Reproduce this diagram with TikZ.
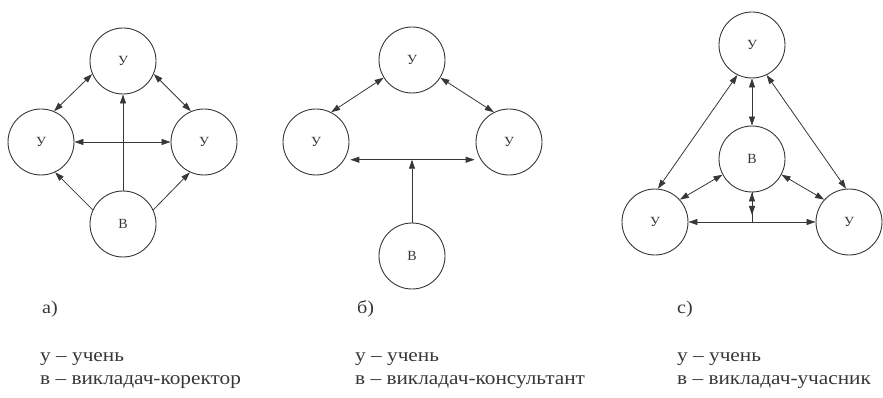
\documentclass[tikz,border=0pt]{standalone}
\usepackage{fontspec}
\setmainfont{Liberation Serif}
\newfontfamily\legfont[FakeStretch=1.12]{Liberation Serif}
\usetikzlibrary{arrows.meta}
\definecolor{ink}{RGB}{55,55,55}
\begin{document}
\begin{tikzpicture}[x=1pt,y=-1pt,
  circ/.style={circle,draw=ink,line width=0.9pt,minimum size=66pt,inner sep=0pt,font=\fontsize{14}{14}\selectfont,text=ink},
  conn/.style={draw=ink,line width=0.8pt},
  oneway/.style={conn,-{Triangle[length=9pt,width=6pt]}},
  twoway/.style={conn,{Triangle[length=9pt,width=6pt]}-{Triangle[length=9pt,width=6pt]}},
  lab/.style={anchor=west,font=\legfont\fontsize{18}{18}\selectfont,text=ink,inner sep=0pt},
  leg/.style={anchor=base west,font=\legfont\fontsize{19}{19}\selectfont,text=ink,inner sep=0pt}]
\useasboundingbox (0,0) rectangle (883,398);

% a)
\node[circ] (aT) at (123,61) {У};
\node[circ] (aL) at (41,142) {У};
\node[circ] (aR) at (204,142) {У};
\node[circ] (aB) at (123,224) {В};
\draw[twoway] (aT.203) -- (aL.67);
\draw[twoway] (aT.337) -- (aR.113);
\draw[twoway] (aL.east) -- (aR.west);
\draw[oneway] (aB.north) -- (aT.south);
\draw[oneway] (aB.155) -- (aL.295);
\draw[oneway] (aB.25) -- (aR.245);

% b)
\node[circ] (bT) at (412,60) {У};
\node[circ] (bL) at (316,142) {У};
\node[circ] (bR) at (509,142) {У};
\node[circ] (bB) at (412,256) {В};
\draw[twoway] (bT.212) -- (bL.63);
\draw[twoway] (bT.328) -- (bR.117);
\draw[twoway, shorten <=6pt, shorten >=6pt] (bL.328) -- (bR.212);
\coordinate (bM) at (bB.north |- bL.328);
\draw[oneway] (bB.north) -- (bM);

% c)
\node[circ] (cT) at (752,45) {У};
\node[circ] (cM) at (752,159) {В};
\node[circ] (cL) at (655,222) {У};
\node[circ] (cR) at (849,222) {У};
\draw[twoway] (cT.south) -- (cM.north);
\draw[twoway] (cT.244) -- (cL.85);
\draw[twoway] (cT.296) -- (cR.95);
\draw[twoway] (cM.208) -- (cL.42);
\draw[twoway] (cM.332) -- (cR.138);
\draw[twoway] (cL.east) -- (cR.west);
\coordinate (cX) at (cM.south |- cL.east);
\draw[twoway, shorten >=7pt] (cM.south) -- (cX);
\draw[conn] (cM.south) -- (cX);

% captions
\node[lab] (aCap) at (42,309) {а)};
\node[lab] (bCap) at (357,309) {б)};
\node[lab] (cCap) at (677,309) {с)};

% legends
\node[leg] (aLeg1) at (40,361) {у – учень};
\node[leg] (aLeg2) at (40,384) {в – викладач-коректор};
\node[leg] (bLeg1) at (355,361) {у – учень};
\node[leg] (bLeg2) at (355,384) {в – викладач-консультант};
\node[leg] (cLeg1) at (677,361) {у – учень};
\node[leg] (cLeg2) at (677,384) {в – викладач-учасник};
\end{tikzpicture}
\end{document}
